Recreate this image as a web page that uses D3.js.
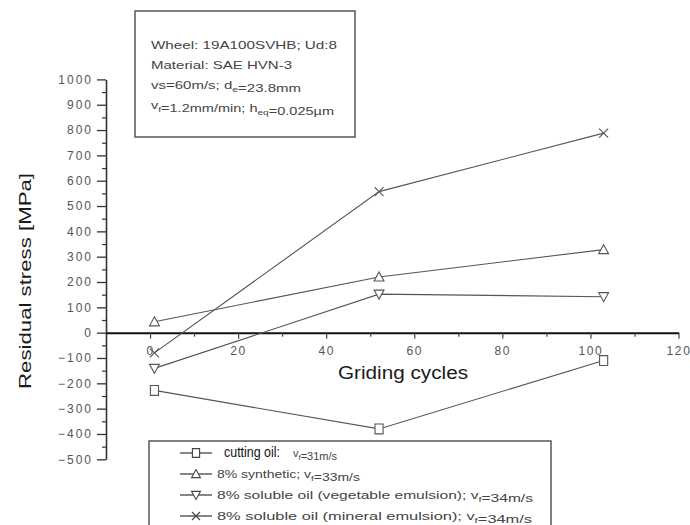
<!DOCTYPE html>
<html>
<head>
<meta charset="utf-8">
<script src="https://cdn.jsdelivr.net/npm/d3@7"></script>
<style>
  body { margin: 0; background: #fff; }
  svg { display: block; font-family: "Liberation Sans", Arial, sans-serif; }
</style>
</head>
<body>
<svg width="690" height="525"></svg>
<script>
// grinding cycles where stress was measured
const CYCLES = [1, 52, 103]
const CUTTING_OIL = [-228, -380, -110]
const SYNTHETIC = [43, 220, 328]
const VEG_EMULSION = [-141, 152, 142]
const MIN_EMULSION = [-80, 557, 788]

const X_TICKS = [0, 20, 40, 60, 80, 100, 120]
const X_MINOR = [10, 30, 50, 70, 90, 110]
const Y_TICKS = d3.range(-500, 1001, 100)
const Y_MINOR = d3.range(-450, 1000, 100)

const SERIES = [
  {key:'oil', values:CUTTING_OIL, marker:'square'},
  {key:'syn', values:SYNTHETIC, marker:'up'},
  {key:'veg', values:VEG_EMULSION, marker:'down'},
  {key:'min', values:MIN_EMULSION, marker:'cross'}
]

const svg = d3.select('svg')
svg.append('rect').attr('width',690).attr('height',525).attr('fill','#fff')

const xScale = d3.scaleLinear().domain([-10,120]).range([106,678.5])
const yScale = d3.scaleLinear().domain([-500,1000]).range([459.3,79.4])

// marker shapes, centred on 0,0
function markerPath(type, s){
  if (type=='square') return `M${-s*0.45},${-s*0.55}h${s*0.9}v${s*1.1}h${-s*0.9}Z`
  if (type=='up') return `M0,${-s*0.55}L${s*0.55},${s*0.45}L${-s*0.55},${s*0.45}Z`
  if (type=='down') return `M0,${s*0.55}L${s*0.55},${-s*0.45}L${-s*0.55},${-s*0.45}Z`
  return `M${-s/2},${-s/2}L${s/2},${s/2}M${s/2},${-s/2}L${-s/2},${s/2}`
}

// ---- axes
const yAxis = svg.append('g')
  .attr('transform',`translate(${xScale(-10)},0)`)
  .call(d3.axisLeft(yScale).tickValues(Y_TICKS).tickFormat(d3.format('d'))
    .tickSize(9).tickSizeOuter(0).tickPadding(4))
yAxis.select('.domain').attr('stroke','#333').attr('stroke-width',1.6)
yAxis.selectAll('.tick line').attr('stroke','#333').attr('stroke-width',1.3)
yAxis.selectAll('.tick text')
  .attr('font-size',12).attr('fill','#555').attr('letter-spacing','2px')
  .attr('font-family','"Liberation Sans", Arial, sans-serif')

svg.append('g')
  .attr('transform',`translate(${xScale(-10)},0)`)
  .call(d3.axisLeft(yScale).tickValues(Y_MINOR).tickSize(4).tickFormat(''))
  .call(g=>g.select('.domain').remove())
  .selectAll('.tick line').attr('stroke','#333').attr('stroke-width',1.2)

const xAxis = svg.append('g')
  .attr('transform',`translate(0,${yScale(0)})`)
  .call(d3.axisBottom(xScale).tickValues(X_TICKS).tickSize(6).tickSizeOuter(0).tickPadding(8))
xAxis.select('.domain').attr('stroke','#111').attr('stroke-width',2)
xAxis.selectAll('.tick line').attr('stroke','#444').attr('stroke-width',1.2)
xAxis.selectAll('.tick text')
  .attr('font-size',12).attr('fill','#555').attr('letter-spacing','1.6px')
  .attr('font-family','"Liberation Sans", Arial, sans-serif')

svg.append('g')
  .attr('transform',`translate(0,${yScale(0)})`)
  .call(d3.axisBottom(xScale).tickValues(X_MINOR).tickSize(4).tickFormat(''))
  .call(g=>g.select('.domain').remove())
  .selectAll('.tick line').attr('stroke','#444').attr('stroke-width',1.2)

// axis titles
svg.append('text')
  .attr('transform','translate(31,281) rotate(-90)')
  .attr('text-anchor','middle')
  .attr('font-size',17).attr('fill','#1a1a1a')
  .attr('textLength',216).attr('lengthAdjust','spacingAndGlyphs')
  .text('Residual stress [MPa]')

svg.append('text')
  .attr('x',403).attr('y',379)
  .attr('text-anchor','middle')
  .attr('font-size',18).attr('fill','#1a1a1a')
  .attr('textLength',130).attr('lengthAdjust','spacingAndGlyphs')
  .text('Griding cycles')

// ---- series
const line = d3.line().x((d,i)=>xScale(CYCLES[i])).y(d=>yScale(d))

const series = svg.selectAll('.series')
  .data(SERIES)
  .enter()
  .append('g')
  .classed('series',true)

series.append('path')
  .attr('d',d=>line(d.values))
  .attr('fill','none').attr('stroke','#555').attr('stroke-width',1.1)

series.selectAll('.pt')
  .data(d=>d.values.map((v,i)=>({v:v,i:i,marker:d.marker})))
  .enter()
  .append('path')
  .classed('pt',true)
  .attr('transform',d=>`translate(${xScale(CYCLES[d.i])},${yScale(d.v)})`)
  .attr('d',d=>markerPath(d.marker,9))
  .attr('fill',d=>d.marker=='cross' ? 'none' : '#fff')
  .attr('stroke','#555').attr('stroke-width',1.1)

// ---- info box
const info = svg.append('g')
info.append('rect')
  .attr('x',135).attr('y',11).attr('width',220).attr('height',126)
  .attr('fill','#fff').attr('stroke','#555').attr('stroke-width',1.5)

// text with subscripts: strings are plain, {sub:'..'} are lowered
function addRich(g, x, y, parts, len, size){
  const t = g.append('text').attr('x',x).attr('y',y)
    .attr('font-size',size).attr('fill','#444')
  if (len) t.attr('textLength',len).attr('lengthAdjust','spacingAndGlyphs')
  parts.forEach(p=>{
    if (typeof p == 'string') t.append('tspan').text(p)
    else {
      t.append('tspan').attr('font-size',size*0.7).attr('dy',3).text(p.sub)
      t.append('tspan').attr('dy',-3).text('')
    }
  })
  return t
}

const INFO_LINES = [
  ['Wheel: 19A100SVHB; Ud:8'],
  ['Material: SAE HVN-3'],
  ['vs=60m/s; d', {sub:'e'}, '=23.8mm'],
  ['v', {sub:'f'}, '=1.2mm/min; h', {sub:'eq'}, '=0.025\u00b5m']
]
const INFO_LEN = [186, 141, 150, 183]
INFO_LINES.forEach((parts,i)=>addRich(info,151,49+i*20,parts,INFO_LEN[i],11))

// ---- legend
const legend = svg.append('g')
legend.append('rect')
  .attr('x',149).attr('y',441).attr('width',402).attr('height',100)
  .attr('fill','#fff').attr('stroke','#555').attr('stroke-width',1.5)

const LEGEND_LABELS = [
  ['v', {sub:'f'}, '=31m/s'],
  ['8% synthetic; v', {sub:'f'}, '=33m/s'],
  ['8% soluble oil (vegetable emulsion); v', {sub:'f'}, '=34m/s'],
  ['8% soluble oil (mineral emulsion); v', {sub:'f'}, '=34m/s']
]
const LEGEND_LEN = [null, 143, 316, 315]
const legendY = d3.scalePoint().domain(SERIES.map(s=>s.key)).range([453,516])

SERIES.forEach((s,i)=>{
  const cy = legendY(s.key)
  legend.append('line').attr('x1',180).attr('x2',212).attr('y1',cy).attr('y2',cy)
    .attr('stroke','#444').attr('stroke-width',1.3)
  legend.append('path').attr('transform',`translate(196,${cy})`)
    .attr('d',markerPath(s.marker,8))
    .attr('fill',s.marker=='cross' ? 'none' : '#fff')
    .attr('stroke','#444').attr('stroke-width',1.1)
  addRich(legend, i==0 ? 293 : 217, cy+4, LEGEND_LABELS[i], LEGEND_LEN[i], 11)
})

// pasted-in label for the first entry
legend.append('rect').attr('x',215).attr('y',443).attr('width',75).attr('height',20).attr('fill','#fff')
legend.append('text')
  .attr('x',224).attr('y',457)
  .attr('font-family','"Liberation Sans Narrow", "Arial Narrow", "Liberation Sans", sans-serif')
  .attr('font-size',14).attr('fill','#111')
  .attr('textLength',56).attr('lengthAdjust','spacingAndGlyphs')
  .text('cutting oil:')
</script>
</body>
</html>
